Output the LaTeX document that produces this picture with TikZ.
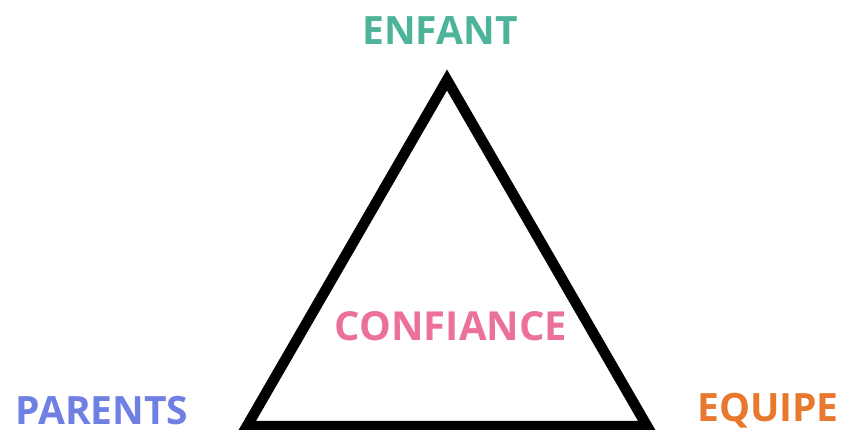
\documentclass[tikz,border=0pt]{standalone}
\usepackage{fontspec}
\setmainfont{Open Sans}

\definecolor{enfantc}{HTML}{4DB39A}
\definecolor{parentsc}{HTML}{6F7FE2}
\definecolor{equipec}{HTML}{E8782E}
\definecolor{confiancec}{HTML}{EB7199}

\begin{document}
\begin{tikzpicture}[x=1pt,y=-1pt,
    every node/.style={font=\fontsize{39}{39}\selectfont\bfseries, inner sep=0pt, anchor=base}]
    % 画布大小
    \useasboundingbox (0,0) rectangle (843,430);

    % 三角形顶点
    \coordinate (top)   at (447,80);
    \coordinate (left)  at (247,426);
    \coordinate (right) at (647,426);

    % 三角形
    \draw[line width=10.5pt] (top) -- (left) -- (right) -- cycle;

    % 三个角的标签
    \node[text=enfantc]  (enfant)  at (440,45)  {ENFANT};
    \node[text=parentsc] (parents) at (102,424) {PARENTS};
    \node[text=equipec]  (equipe)  at (768,421) {EQUIPE};

    % 中间
    \node[font=\fontsize{40}{40}\selectfont\bfseries, text=confiancec] (confiance) at (451,340) {CONFIANCE};

\end{tikzpicture}
\end{document}
